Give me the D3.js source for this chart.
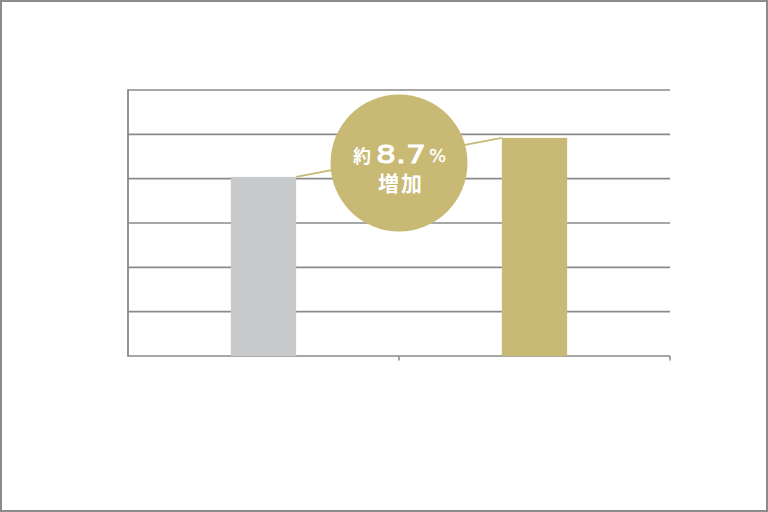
<!DOCTYPE html>
<html>
<head>
<meta charset="utf-8">
<script src="https://cdn.jsdelivr.net/npm/d3@7"></script>
<style>
  html, body { margin: 0; padding: 0; background: #fff; }
  svg { display: block; }
</style>
</head>
<body>
<svg id="chart" width="768" height="512"></svg>
<script>
// ---- data ----
const categories = ["before", "after"];
const values = [4.04, 4.92];
const barColors = ["#c8c9ca", "#c8b975"];
const yTicks = [0, 1, 2, 3, 4, 5, 6];
const badgeLine1 = ["約", "8.7", "%"];
const badgeLine2 = "増加";

// ---- layout ----
const W = 768, H = 512;
const plot = { left: 128, right: 670, top: 90, bottom: 356 };

const svg = d3.select("#chart");

// outer frame
svg.append("rect")
  .attr("x", 1).attr("y", 1).attr("width", W - 2).attr("height", H - 2)
  .attr("fill", "#fff").attr("stroke", "#8c8c8c").attr("stroke-width", 2);

const x = d3.scaleBand().domain(categories).range([plot.left, plot.right]).padding(0);
const y = d3.scaleLinear().domain([0, 6]).range([plot.bottom, plot.top]);
const barFrac = 0.241;
const bw = x.bandwidth() * barFrac;
const bx = c => x(c) + (x.bandwidth() - bw) / 2;

// gridlines
svg.append("g").selectAll("line").data(yTicks).join("line")
  .attr("x1", plot.left).attr("x2", plot.right)
  .attr("y1", d => y(d)).attr("y2", d => y(d))
  .attr("stroke", "#8a8a8a").attr("stroke-width", 1.6);

// left axis line
svg.append("line")
  .attr("x1", plot.left).attr("x2", plot.left)
  .attr("y1", y(6) - 0.8).attr("y2", y(0) + 0.8)
  .attr("stroke", "#8a8a8a").attr("stroke-width", 1.8);

// bottom ticks at band boundaries
const boundaries = categories.map(c => x(c) + x.bandwidth());
svg.append("g").selectAll("line").data(boundaries).join("line")
  .attr("x1", d => d).attr("x2", d => d)
  .attr("y1", y(0)).attr("y2", y(0) + 4.5)
  .attr("stroke", "#8a8a8a").attr("stroke-width", 1.5);

// bars
svg.append("g").selectAll("rect").data(categories).join("rect")
  .attr("x", c => bx(c))
  .attr("y", (c, i) => y(values[i]))
  .attr("width", bw)
  .attr("height", (c, i) => y(0) - y(values[i]))
  .attr("fill", (c, i) => barColors[i]);

// connector line between bar tops
svg.append("line")
  .attr("x1", bx(categories[0]) + bw).attr("y1", y(values[0]))
  .attr("x2", bx(categories[1])).attr("y2", y(values[1]))
  .attr("stroke", "#c8b975").attr("stroke-width", 1.6);

// badge circle
const cx = (x(categories[0]) + x.bandwidth()), cy = 163, r = 68.5;
svg.append("circle").attr("cx", cx).attr("cy", cy).attr("r", r).attr("fill", "#c8b975");

const jp = "'Noto Sans CJK JP', 'Noto Sans', sans-serif";
svg.append("text")
  .attr("x", cx - 28).attr("y", cy + 0)
  .attr("text-anchor", "end")
  .attr("font-family", jp).attr("font-size", 18).attr("font-weight", 700)
  .attr("fill", "#fff").text(badgeLine1[0]);
svg.append("text")
  .attr("x", cx - 23).attr("y", cy + 0)
  .attr("font-family", "'DejaVu Sans', sans-serif").attr("font-size", 25)
  .attr("textLength", 50).attr("lengthAdjust", "spacingAndGlyphs")
  .attr("stroke", "#fff").attr("stroke-width", 0.9)
  .attr("fill", "#fff").text(badgeLine1[1]);
svg.append("text")
  .attr("x", cx + 30).attr("y", cy - 1)
  .attr("font-family", "'DejaVu Sans', sans-serif").attr("font-size", 18)
  .attr("stroke", "#fff").attr("stroke-width", 0.3)
  .attr("fill", "#fff").text(badgeLine1[2]);
svg.append("text")
  .attr("x", cx + 2).attr("y", cy + 28)
  .attr("text-anchor", "middle")
  .attr("font-family", jp).attr("font-size", 21).attr("font-weight", 700)
  .attr("letter-spacing", 2)
  .attr("fill", "#fff").text(badgeLine2);
</script>
</body>
</html>
